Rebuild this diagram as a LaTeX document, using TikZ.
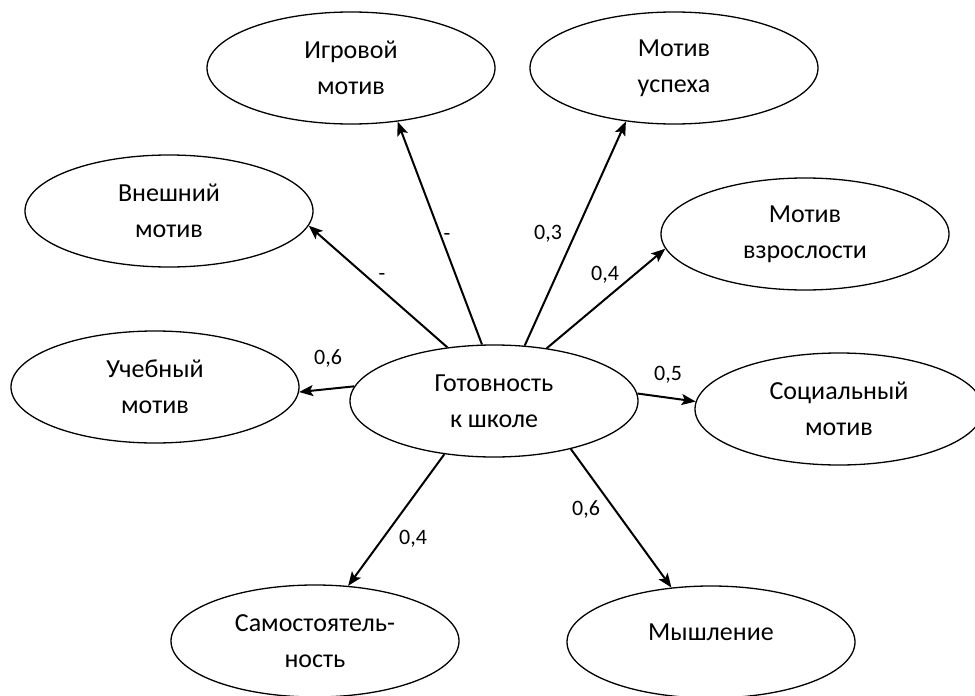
\documentclass[tikz,border=0pt]{standalone}
\usepackage{fontspec}
\setmainfont{Carlito}
\usetikzlibrary{shapes.geometric,arrows.meta}

\begin{document}
\begin{tikzpicture}[x=1pt,y=-1pt,
  oval/.style={draw, ellipse, line width=1.3pt, minimum width=288pt, minimum height=112pt,
    inner sep=0pt, align=center, font=\fontsize{26}{36}\selectfont},
  link/.style={line width=2pt, -{Stealth[length=14pt,width=11pt,inset=3pt]}},
  wt/.style={font=\fontsize{22}{26}\selectfont, inner sep=0pt, text height=14pt, text depth=0pt}]
\useasboundingbox (0,0) rectangle (975,696);

\node[oval] (igr)   at (351,68)  {Игровой\\мотив};
\node[oval] (usp)   at (674,68)  {Мотив\\успеха};
\node[oval] (vne)   at (169,211) {Внешний\\мотив};
\node[oval] (vzr)   at (805,234) {Мотив\\взрослости};
\node[oval] (ucheb) at (155,387) {Учебный\\мотив};
\node[oval] (got)   at (494,401) {Готовность\\к школе};
\node[oval] (soc)   at (839,409) {Социальный\\мотив};
\node[oval] (sam)   at (315,641) {Самостоятель-\\ность};
\node[oval, text height=16pt, text depth=20pt] (mysh) at (711,642) {Мышление};

\draw[link] (got.102) -- (igr.311);
\draw[link] (got.61)  -- (usp.228);
\draw[link] (got.131) -- (vne.354);
\draw[link] (got.45)  -- (vzr.186);
\draw[link] (got.174) -- (ucheb.358);
\draw[link] (got.3)   -- (soc.177);
\draw[link] (got.227) -- (sam.59);
\draw[link] (got.328) -- (mysh.126);

\node[wt] (l1) at (447,233) {-};
\node[wt] (l2) at (382,273) {-};
\node[wt] (l3) at (548,232) {0,3};
\node[wt] (l4) at (605,273) {0,4};
\node[wt] (l5) at (328,357) {0,6};
\node[wt] (l6) at (668,373) {0,5};
\node[wt] (l7) at (413,537) {0,4};
\node[wt] (l8) at (586,508) {0,6};
\end{tikzpicture}
\end{document}
